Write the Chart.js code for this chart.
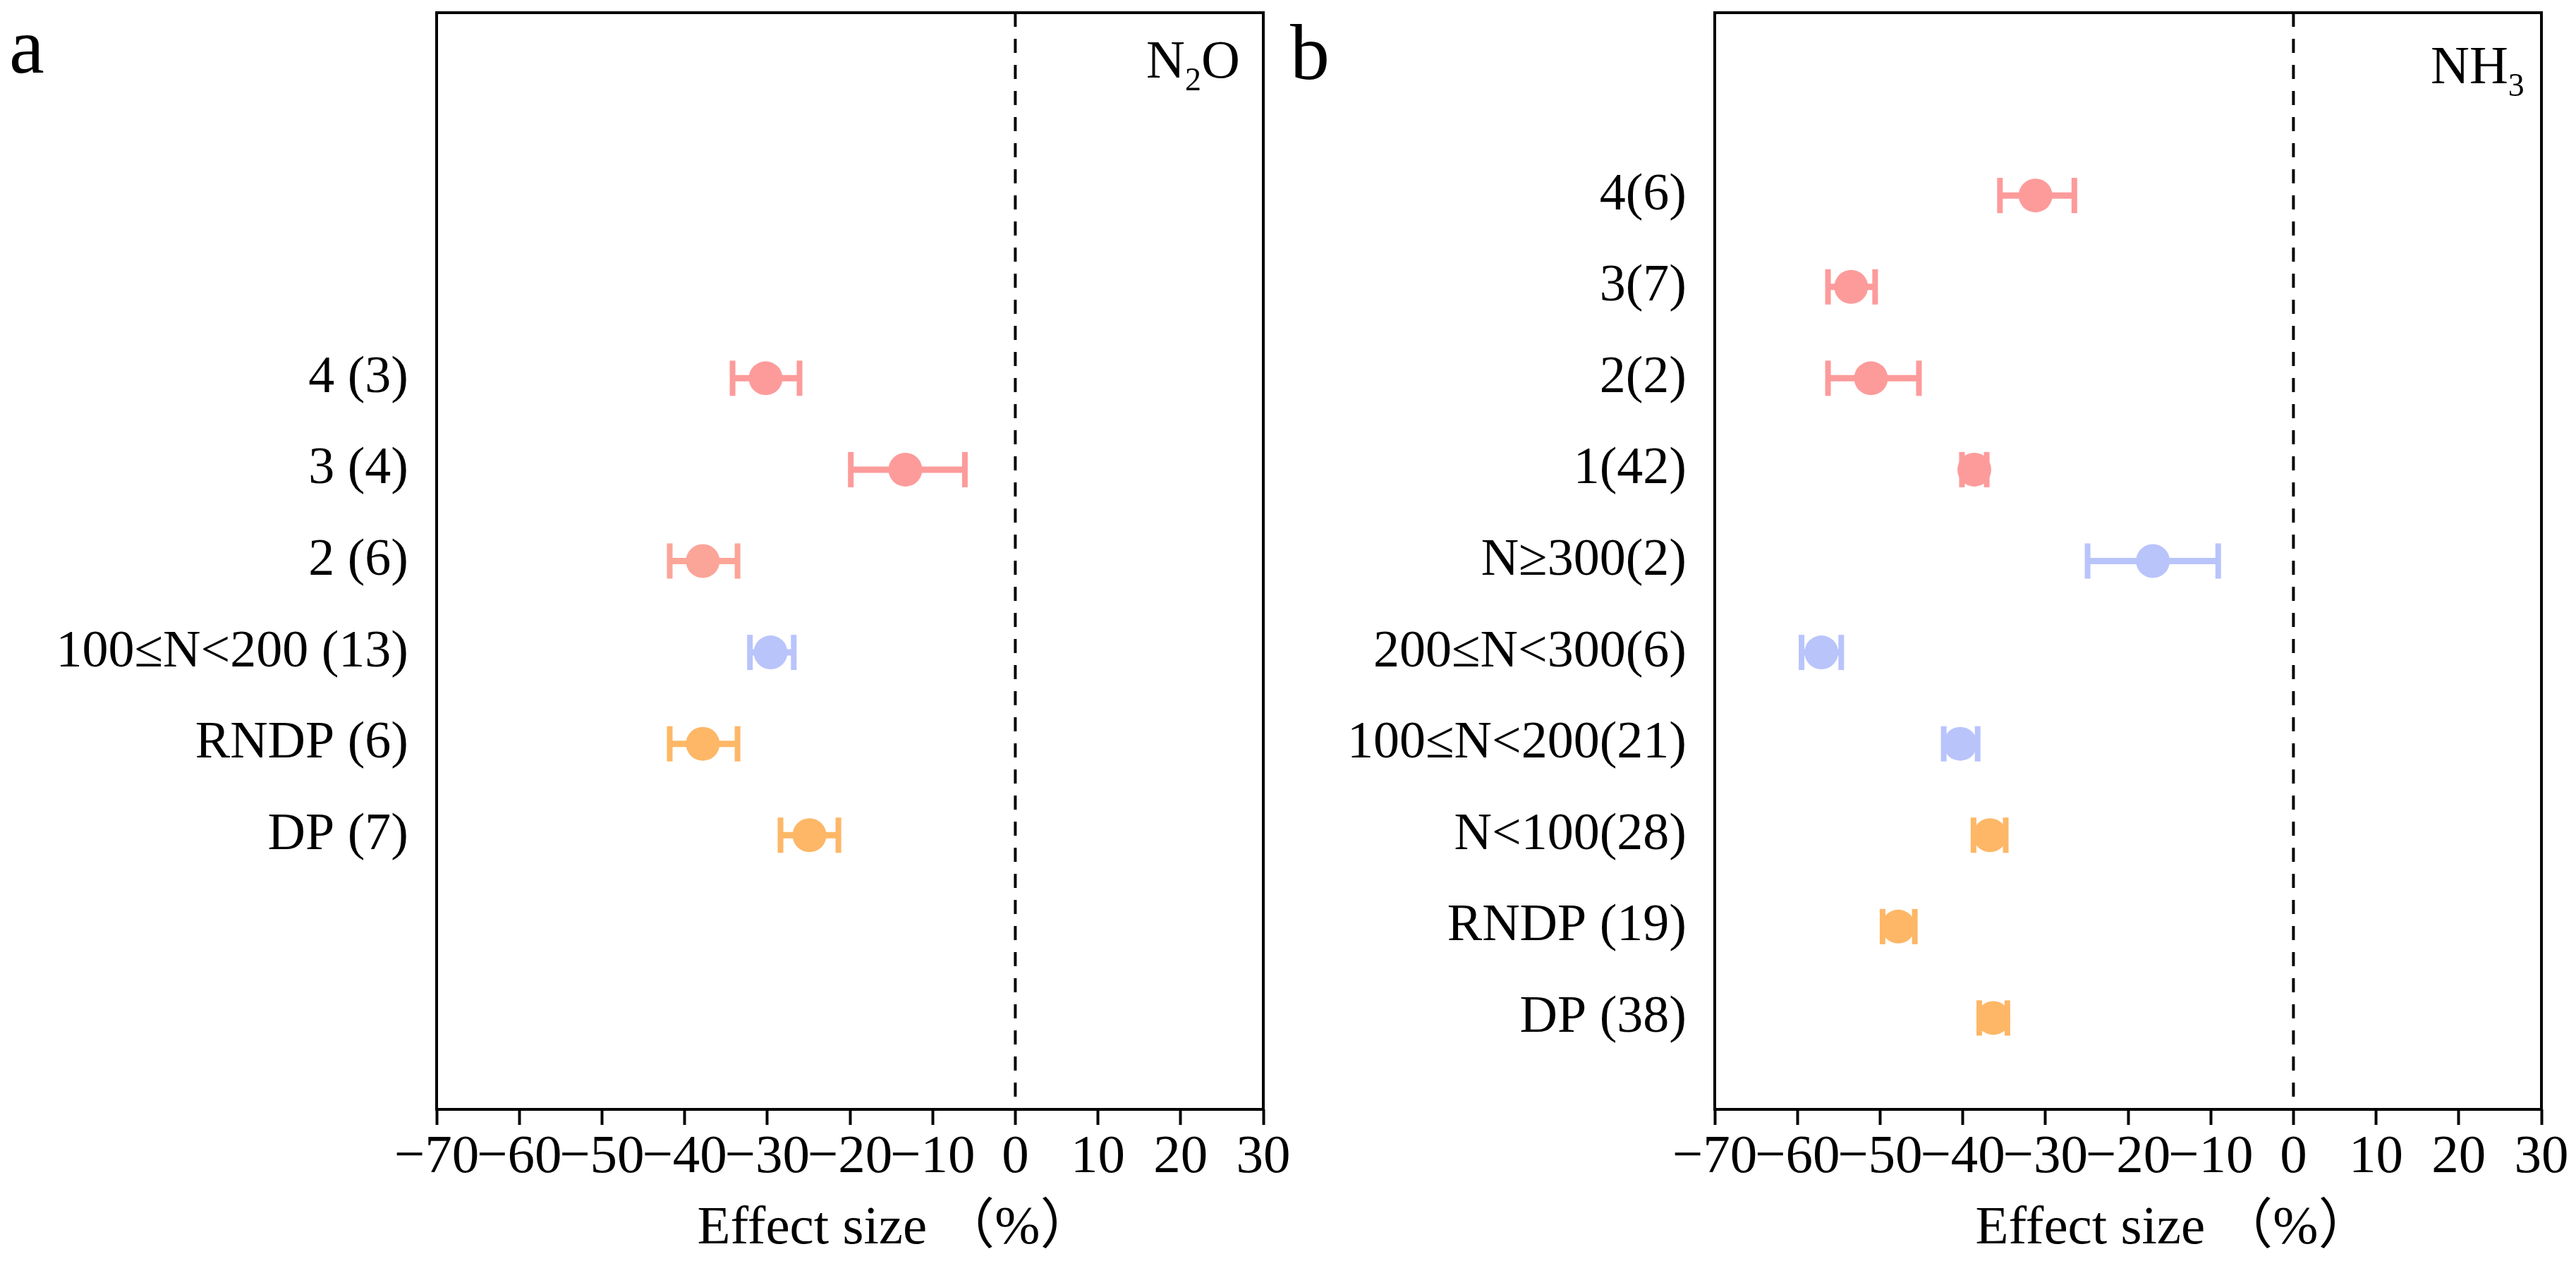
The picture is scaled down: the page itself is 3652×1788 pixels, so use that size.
<!DOCTYPE html>
<html>
<head>
<meta charset="utf-8">
<script src="https://cdn.jsdelivr.net/npm/chart.js@4.4.1/dist/chart.umd.min.js"></script>
<style>
  body { margin: 0; width: 3652px; height: 1788px; background: #fff; position: relative; overflow: hidden; font-family: 'Liberation Serif', serif; }
  canvas { position: absolute; top: 0; }
  .tag { position: absolute; line-height: 1; color: #000; white-space: nowrap; }
  .sub { font-size: 46px; vertical-align: -18px; }
</style>
</head>
<body>
<canvas id="chart-a" width="1900" height="1788" style="left:0"></canvas>
<canvas id="chart-b" width="1826" height="1788" style="left:1826px"></canvas>
<div class="tag" style="left:13px;top:9px;font-size:112px">a</div>
<div class="tag" style="left:1829px;top:18px;font-size:112px">b</div>
<div class="tag" style="left:1625px;top:46px;font-size:76px">N<span class="sub">2</span>O</div>
<div class="tag" style="left:3446px;top:54px;font-size:76px">NH<span class="sub">3</span></div>
<script>
// x axis ticks (effect size, %)
const xTicks = [-70, -60, -50, -40, -30, -20, -10, 0, 10, 20, 30];
const xTitle = 'Effect size （%）';

const PINK = '#FD9B9B';
const SALMON = '#FBA599';
const BLUE = '#B9C4FB';
const ORANGE = '#FDB766';

// panel a - N2O
const catsA = ['4 (3)', '3 (4)', '2 (6)', '100≤N<200 (13)', 'RNDP (6)', 'DP (7)'];
const posA = [8, 7, 6, 5, 4, 3];
const meanA = [-30.2, -13.3, -37.8, -29.6, -37.8, -24.9];
const lowA = [-34.2, -19.9, -41.8, -32.1, -41.8, -28.4];
const highA = [-26.1, -6.1, -33.6, -26.8, -33.6, -21.4];
const colorsA = [PINK, PINK, SALMON, BLUE, ORANGE, ORANGE];

// panel b - NH3
const catsB = ['4(6)', '3(7)', '2(2)', '1(42)', 'N≥300(2)', '200≤N<300(6)', '100≤N<200(21)', 'N<100(28)', 'RNDP (19)', 'DP (38)'];
const posB = [10, 9, 8, 7, 6, 5, 4, 3, 2, 1];
const meanB = [-31.2, -53.5, -51.1, -38.6, -17.0, -57.1, -40.3, -36.7, -47.8, -36.3];
const lowB = [-35.5, -56.3, -56.3, -40.1, -24.9, -59.5, -42.3, -38.7, -49.7, -38.0];
const highB = [-26.5, -50.6, -45.3, -37.1, -9.1, -54.7, -38.2, -34.8, -45.8, -34.6];
const colorsB = [PINK, PINK, PINK, PINK, BLUE, BLUE, BLUE, ORANGE, ORANGE, ORANGE];

Chart.defaults.font.family = "'Liberation Serif', 'Noto Sans CJK SC', serif";
Chart.defaults.color = '#000';

// box around the plot area
const framePlugin = {
    id: 'frame',
    afterDatasetsDraw(chart) {
        const { ctx, chartArea: a } = chart;
        ctx.save();
        ctx.strokeStyle = '#000';
        ctx.lineWidth = 4;
        ctx.strokeRect(a.left, a.top, a.right - a.left, a.bottom - a.top);
        ctx.restore();
    }
};

// x title sits a bit right of the axis centre in the original
const titlePlugin = {
    id: 'xtitle',
    afterDraw(chart) {
        const { ctx } = chart;
        const sx = chart.scales.x;
        ctx.save();
        ctx.fillStyle = '#000';
        ctx.font = "77px 'Liberation Serif', 'Noto Sans CJK SC', serif";
        ctx.textAlign = 'center';
        ctx.textBaseline = 'middle';
        ctx.fillText(xTitle, (sx.left + sx.right) / 2 + 65, sx.bottom - 45);
        ctx.restore();
    }
};

function buildDatasets(pos, mean, low, high, colors) {
    var sets = [];
    // dashed zero line
    sets.push({
        data: [{ x: 0, y: 12 }, { x: 0, y: 0 }],
        showLine: true, borderColor: '#000', borderWidth: 4, borderDash: [20, 17],
        pointRadius: 0, order: 3
    });
    // error bars with caps
    pos.forEach(function (p, i) {
        sets.push({
            data: [{ x: low[i], y: p }, { x: high[i], y: p }],
            showLine: true, borderColor: colors[i], borderWidth: 9,
            pointStyle: 'line', rotation: 90, pointRadius: 25,
            pointBorderWidth: 8, pointBorderColor: colors[i], pointBackgroundColor: colors[i],
            order: 2
        });
    });
    // means
    sets.push({
        data: pos.map(function (p, i) { return { x: mean[i], y: p }; }),
        pointRadius: 24, pointBackgroundColor: colors, pointBorderWidth: 0,
        showLine: false, order: 1
    });
    return sets;
}

function makeChart(id, cats, pos, mean, low, high, colors, yWidth, padRight) {
    const sortedPos = pos.slice().sort(function (a, b) { return a - b; });
    return new Chart(document.getElementById(id), {
        type: 'scatter',
        data: { datasets: buildDatasets(pos, mean, low, high, colors) },
        options: {
            responsive: false,
            animation: false,
            devicePixelRatio: 1,
            events: [],
            layout: { autoPadding: false, padding: { top: 18, right: padRight, bottom: 0, left: 0 } },
            plugins: { legend: { display: false }, tooltip: { enabled: false } },
            scales: {
                x: {
                    type: 'linear', min: -70, max: 30,
                    afterBuildTicks: function (s) { s.ticks = xTicks.map(function (v) { return { value: v }; }); },
                    afterFit: function (s) { s.height = 215; s.paddingLeft = 0; s.paddingRight = 0; },
                    ticks: {
                        autoSkip: false, maxRotation: 0, minRotation: 0, padding: 1,
                        font: { size: 77 },
                        callback: function (v) { return v < 0 ? '\u2212' + Math.abs(v) : String(v); }
                    },
                    grid: { drawOnChartArea: false, color: '#000', tickLength: 22, tickWidth: 4 },
                    border: { display: false },
                    title: { display: false }
                },
                y: {
                    type: 'linear', min: 0, max: 12,
                    afterBuildTicks: function (s) { s.ticks = sortedPos.map(function (v) { return { value: v }; }); },
                    afterFit: function (s) { s.width = yWidth; s.paddingTop = 0; s.paddingBottom = 0; },
                    ticks: {
                        autoSkip: false, padding: 40,
                        font: { size: 74 },
                        callback: function (v) { return cats[pos.indexOf(v)]; }
                    },
                    grid: { display: false, drawTicks: false },
                    border: { display: false }
                }
            }
        },
        plugins: [framePlugin, titlePlugin]
    });
}

makeChart('chart-a', catsA, posA, meanA, lowA, highA, colorsA, 619, 109);
makeChart('chart-b', catsB, posB, meanB, lowB, highB, colorsB, 605, 49);
</script>
</body>
</html>
